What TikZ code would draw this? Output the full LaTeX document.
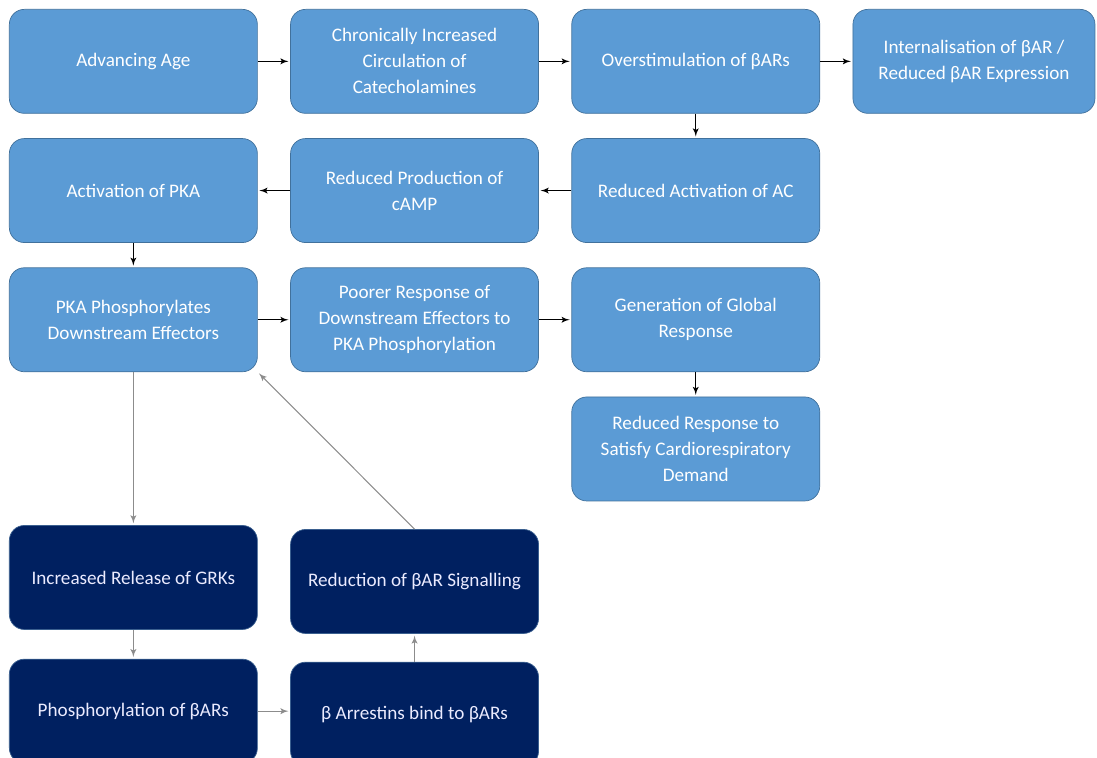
\documentclass[tikz,border=0pt]{standalone}
\usepackage{fontspec}
\setmainfont{Carlito}
\usetikzlibrary{arrows,positioning}

\definecolor{lightbox}{HTML}{5B9BD5}
\definecolor{lightedge}{HTML}{41719C}
\definecolor{darkbox}{HTML}{002060}
\definecolor{darkedge}{HTML}{3A5F8F}

\begin{document}
\begin{tikzpicture}[->,>=latex',shorten >=1pt,semithick,
  node distance=0.49cm and 0.65cm,
  light box/.style={rectangle,rounded corners=0.3cm,fill=lightbox,draw=lightedge,
  thin,text=white,align=center,font=\fontsize{10.9}{14.8}\selectfont,
  minimum width=4.96cm,minimum height=2.08cm,inner sep=2pt},
  dark box/.style={light box,fill=darkbox,draw=darkedge,text=white!92!blue},
  grey arrow/.style={draw=gray!90}]

  \useasboundingbox (0,0) rectangle (21.94,-15.16);

  % blue chain
  \node[light box,anchor=north west] (age) at (0.18,-0.18) {Advancing Age};
  \node[light box] (circ) [right=of age] {Chronically Increased\\Circulation of\\Catecholamines};
  \node[light box] (overstim) [right=of circ] {Overstimulation of βARs};
  \node[light box,minimum width=4.84cm] (intern) [right=of overstim] {Internalisation of βAR /\\Reduced βAR Expression};
  \node[light box] (ac) [below=of overstim] {Reduced Activation of AC};
  \node[light box] (camp) [below=of circ] {Reduced Production of\\cAMP};
  \node[light box] (pka) [below=of age] {Activation of PKA};
  \node[light box] (pkaphos) [below=of pka] {PKA Phosphorylates\\Downstream Effectors};
  \node[light box] (poorer) [right=of pkaphos] {Poorer Response of\\Downstream Effectors to\\PKA Phosphorylation};
  \node[light box] (global) [right=of poorer] {Generation of Global\\Response};
  \node[light box] (demand) [below=of global] {Reduced Response to\\Satisfy Cardiorespiratory\\Demand};

  % dark loop
  \node[dark box] (grk) [below=3.06cm of pkaphos] {Increased Release of GRKs};
  \node[dark box] (phos) [below=0.58cm of grk] {Phosphorylation of βARs};
  \node[dark box,yshift=-0.06cm] (arrest) [right=of phos] {β Arrestins bind to βARs};
  \node[dark box] (reduc) [above=0.56cm of arrest] {Reduction of βAR Signalling};

  \path
    (age) edge (circ)
    (circ) edge (overstim)
    (overstim) edge (intern)
               edge (ac)
    (ac) edge (camp)
    (camp) edge (pka)
    (pka) edge (pkaphos)
    (pkaphos) edge (poorer)
    (poorer) edge (global)
    (global) edge (demand);

  \path[every edge/.style={draw,grey arrow}]
    (pkaphos) edge (grk)
    (grk) edge (phos)
    (phos.east) edge (phos.east -| arrest.west)
    (arrest) edge (reduc)
    (reduc.north) edge (pkaphos.south east);
\end{tikzpicture}
\end{document}
